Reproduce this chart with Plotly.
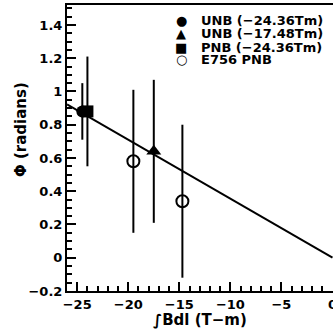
import plotly.graph_objects as go

# Data
unb24_x = [-24.5]; unb24_y = [0.88]; unb24_err = [0.17]
unb17_x = [-17.5]; unb17_y = [0.64]; unb17_err = [0.43]
pnb24_x = [-24.0]; pnb24_y = [0.88]; pnb24_err = [0.33]
e756_x = [-19.5, -14.7]; e756_y = [0.58, 0.34]; e756_err = [0.43, 0.46]
fit_x = [-26.0, 0.0]; fit_y = [0.923, 0.0]

legend_symbols = ["\u25cf", "\u25b2", "\u25a0", "\u25cb"]
legend_labels = ["UNB (\u221224.36Tm)", "UNB (\u221217.48Tm)", "PNB (\u221224.36Tm)", "E756 PNB"]

FONT = "DejaVu Sans"
W, H = 333, 336
ML, MR, MT, MB = 67, 0, 5, 45
PW, PH = W - ML - MR, H - MT - MB

fig = go.Figure()

fig.add_trace(go.Scatter(x=fit_x, y=fit_y, mode="lines", line=dict(color="black", width=2), showlegend=False))

def err(v):
    return dict(type="data", array=v, visible=True, color="black", thickness=2, width=0)

fig.add_trace(go.Scatter(x=unb24_x, y=unb24_y, mode="markers", showlegend=False,
                         error_y=err(unb24_err),
                         marker=dict(symbol="circle", size=12, color="black")))
fig.add_trace(go.Scatter(x=unb17_x, y=unb17_y, mode="markers", showlegend=False,
                         error_y=err(unb17_err),
                         marker=dict(symbol="triangle-up", size=13, color="black")))
fig.add_trace(go.Scatter(x=pnb24_x, y=pnb24_y, mode="markers", showlegend=False,
                         error_y=err(pnb24_err),
                         marker=dict(symbol="square", size=12, color="black")))
fig.add_trace(go.Scatter(x=e756_x, y=e756_y, mode="markers", showlegend=False,
                         error_y=err(e756_err),
                         marker=dict(symbol="circle-open", size=12, color="black", line=dict(width=2, color="black"))))

def px_x(p):
    return (p - ML) / PW

def px_y(p):
    return 1 - (p - MT) / PH

annotations = [
    dict(text="\u03a6 (radians)", textangle=-90, xref="paper", yref="paper",
         x=px_x(21), y=px_y(130), xanchor="center", yanchor="middle", showarrow=False,
         font=dict(size=15, family=FONT, weight="bold", color="black")),
    dict(text="\u222bBdl (T\u2212m)", xref="paper", yref="paper",
         x=px_x(200), y=px_y(320), xanchor="center", yanchor="middle", showarrow=False,
         font=dict(size=15, family=FONT, weight="bold", color="black")),
]
row_y = [20, 33, 47, 60]
for sym, lab, ry in zip(legend_symbols, legend_labels, row_y):
    annotations.append(dict(text=sym, xref="paper", yref="paper", x=px_x(181), y=px_y(ry),
                            xanchor="center", yanchor="middle", showarrow=False,
                            font=dict(size=13, family=FONT, color="black")))
    annotations.append(dict(text=lab, xref="paper", yref="paper", x=px_x(199), y=px_y(ry),
                            xanchor="left", yanchor="middle", showarrow=False,
                            font=dict(size=13, family=FONT, weight="bold", color="black")))

fig.update_layout(
    template="simple_white",
    width=W, height=H,
    margin=dict(l=ML, r=MR, t=MT, b=MB, autoexpand=False),
    paper_bgcolor="white", plot_bgcolor="white",
    font=dict(family=FONT, size=13, color="black"),
    showlegend=False,
    xaxis=dict(range=[-26, 0.05], dtick=5,
               ticks="inside", ticklen=9, tickwidth=2, tickcolor="black",
               showline=True, linewidth=2, linecolor="black", mirror=True,
               showgrid=False, zeroline=False,
               ticklabeloverflow="allow",
               tickfont=dict(size=13, family=FONT, weight="bold", color="black"),
               minor=dict(ticks="inside", ticklen=5, tickcolor="black")),
    yaxis=dict(range=[-0.2, 1.52], dtick=0.2,
               ticks="inside", ticklen=9, tickwidth=2, tickcolor="black",
               showline=True, linewidth=2, linecolor="black", mirror=True,
               showgrid=False, zeroline=False,
               tickfont=dict(size=13, family=FONT, weight="bold", color="black"),
               minor=dict(ticks="inside", ticklen=5, tickcolor="black")),
    annotations=annotations,
)

fig.write_html("out.html", post_script="document.body.style.margin='0px';document.body.style.overflow='hidden';",
               config={"displayModeBar": False})
